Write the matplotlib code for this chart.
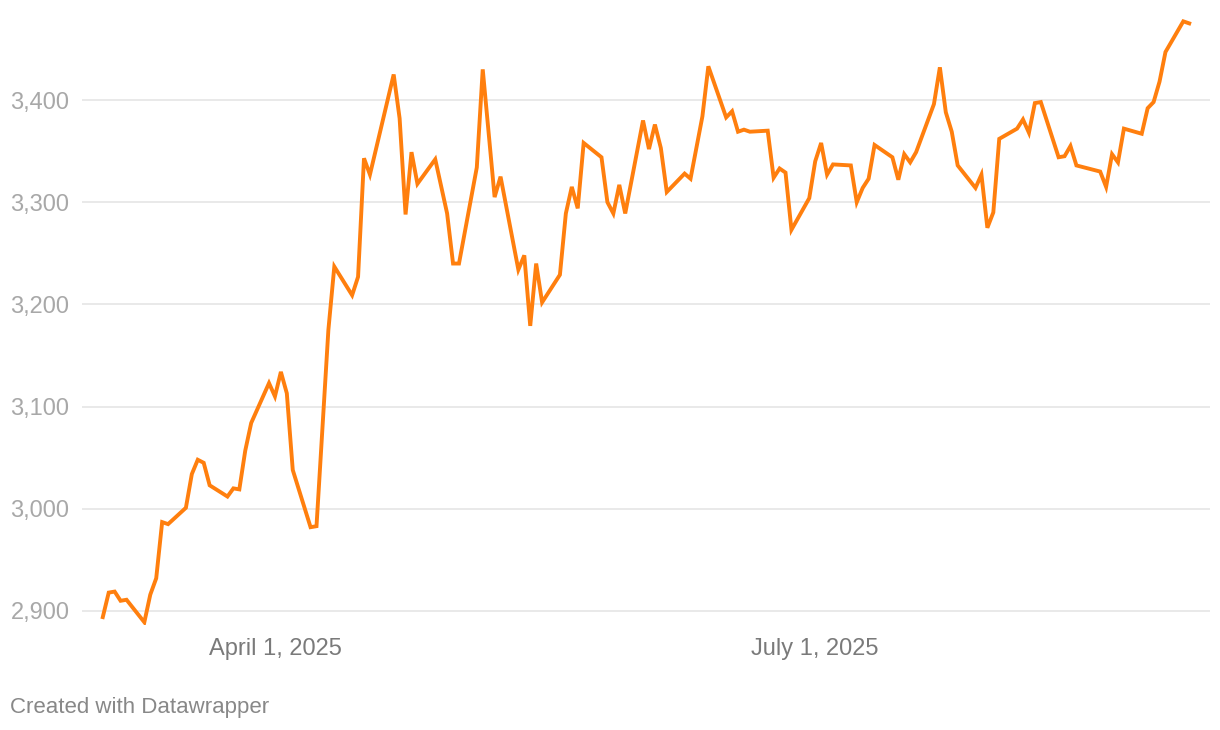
#Grafico de linha - preco do ouro 2025 (estilo Datawrapper)

#Imports
import pandas as pd
import matplotlib
matplotlib.use('Agg')
import matplotlib.pyplot as plt

#1. Dados
datas = ['2025-03-03', '2025-03-04', '2025-03-05', '2025-03-06', '2025-03-07',
         '2025-03-10', '2025-03-11', '2025-03-12', '2025-03-13', '2025-03-14',
         '2025-03-17', '2025-03-18', '2025-03-19', '2025-03-20', '2025-03-21',
         '2025-03-24', '2025-03-25', '2025-03-26', '2025-03-27', '2025-03-28',
         '2025-03-31', '2025-04-01', '2025-04-02', '2025-04-03', '2025-04-04',
         '2025-04-07', '2025-04-08', '2025-04-10', '2025-04-11',
         '2025-04-14', '2025-04-15', '2025-04-16', '2025-04-17',
         '2025-04-21', '2025-04-22', '2025-04-23', '2025-04-24', '2025-04-25',
         '2025-04-28', '2025-04-30', '2025-05-01', '2025-05-02',
         '2025-05-05', '2025-05-06', '2025-05-08', '2025-05-09',
         '2025-05-12', '2025-05-13', '2025-05-14', '2025-05-15', '2025-05-16',
         '2025-05-19', '2025-05-20', '2025-05-21', '2025-05-22', '2025-05-23',
         '2025-05-26', '2025-05-27', '2025-05-28', '2025-05-29', '2025-05-30',
         '2025-06-02', '2025-06-03', '2025-06-04', '2025-06-05', '2025-06-06',
         '2025-06-09', '2025-06-10', '2025-06-12', '2025-06-13',
         '2025-06-16', '2025-06-17', '2025-06-18', '2025-06-19', '2025-06-20',
         '2025-06-23', '2025-06-24', '2025-06-25', '2025-06-26', '2025-06-27',
         '2025-06-30', '2025-07-01', '2025-07-02', '2025-07-03', '2025-07-04',
         '2025-07-07', '2025-07-08', '2025-07-09', '2025-07-10', '2025-07-11',
         '2025-07-14', '2025-07-15', '2025-07-16', '2025-07-17', '2025-07-18',
         '2025-07-21', '2025-07-22', '2025-07-23', '2025-07-24', '2025-07-25',
         '2025-07-28', '2025-07-29', '2025-07-30', '2025-07-31', '2025-08-01',
         '2025-08-04', '2025-08-05', '2025-08-06', '2025-08-07', '2025-08-08',
         '2025-08-11', '2025-08-12', '2025-08-13', '2025-08-14',
         '2025-08-18', '2025-08-19', '2025-08-20', '2025-08-21', '2025-08-22',
         '2025-08-25', '2025-08-26', '2025-08-27', '2025-08-28', '2025-08-29',
         '2025-09-01', '2025-09-02']

precos = [2894, 2918, 2919, 2910, 2911,
          2889, 2916, 2932, 2987, 2985,
          3001, 3034, 3048, 3045, 3023,
          3012, 3020, 3019, 3057, 3084,
          3123, 3110, 3134, 3113, 3038,
          2982, 2983, 3175, 3237,
          3209, 3227, 3343, 3327,
          3425, 3382, 3288, 3349, 3318,
          3342, 3289, 3240, 3240,
          3334, 3430, 3305, 3325,
          3234, 3248, 3179, 3240, 3202,
          3229, 3289, 3315, 3294, 3358,
          3344, 3300, 3289, 3317, 3289,
          3380, 3352, 3376, 3353, 3310,
          3328, 3323, 3384, 3433,
          3383, 3389, 3369, 3371, 3369,
          3370, 3324, 3333, 3329, 3273,
          3304, 3340, 3358, 3327, 3337,
          3336, 3300, 3314, 3323, 3356,
          3344, 3322, 3347, 3339, 3349,
          3396, 3432, 3388, 3369, 3336,
          3314, 3327, 3275, 3290, 3362,
          3372, 3381, 3368, 3397, 3398,
          3344, 3345, 3355, 3336,
          3330, 3315, 3347, 3339, 3372,
          3367, 3392, 3398, 3418, 3447,
          3477, 3475]

ticks_y = [2900, 3000, 3100, 3200, 3300, 3400]
ticks_x = ['2025-04-01', '2025-07-01']
rotulos_x = ['April 1, 2025', 'July 1, 2025']

#2. Converter datas
x = pd.to_datetime(datas)

#3. Figura
plt.rcParams['font.family'] = ['Liberation Sans', 'DejaVu Sans']
fig = plt.figure(figsize=(12.2, 7.3), dpi=100)
ax = fig.add_axes([82 / 1220, 1 - 625 / 730, (1210 - 82) / 1220, 610 / 730])

ax.plot(x, precos, color='#ff7f0e', linewidth=2.8, solid_joinstyle='miter', zorder=3)

# -- limites
ax.set_xlim(pd.Timestamp('2025-03-03') - pd.Timedelta(days=3.5),
            pd.Timestamp('2025-09-02') + pd.Timedelta(days=3.5))
ax.set_ylim(2886.3, 3483.2)

# -- eixo y
ax.set_yticks(ticks_y)
ax.set_yticklabels([f'{t:,}' for t in ticks_y])
ax.grid(axis='y', color='#e3e3e3', linewidth=1.1, zorder=0)
ax.tick_params(axis='y', length=0, pad=9, labelsize=17, labelcolor='#a8a8a8')

# -- eixo x
ax.set_xticks(pd.to_datetime(ticks_x))
ax.set_xticklabels(rotulos_x)
ax.tick_params(axis='x', length=0, pad=9, labelsize=17, labelcolor='#7a7a7a')

for s in ax.spines.values():
    s.set_visible(False)

# -- rodape
fig.text(10 / 1220, 1 - 707 / 730, 'Created with Datawrapper', fontsize=16,
         color='#888888', ha='left', va='center')

fig.savefig('out.png', dpi=100)
